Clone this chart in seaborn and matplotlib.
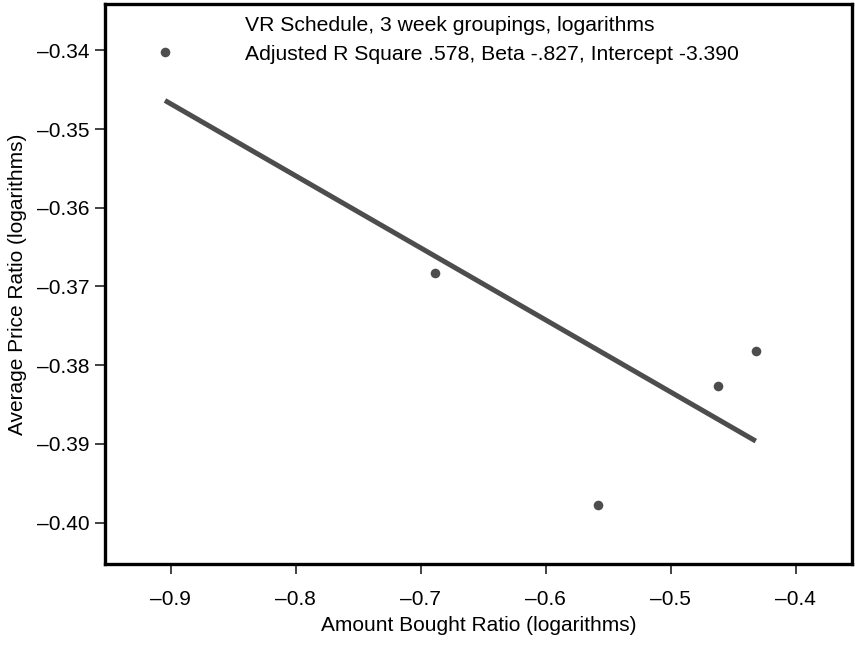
import seaborn as sns
import matplotlib.pyplot as plt
import pandas as pd

# values
amount_ratio = [-0.9046, -0.6886, -0.5582, -0.4624, -0.4320]
price_ratio = [-0.3402, -0.3683, -0.3978, -0.3826, -0.3782]
xticks = [-0.9, -0.8, -0.7, -0.6, -0.5, -0.4]
yticks = [-0.34, -0.35, -0.36, -0.37, -0.38, -0.39, -0.40]
note1 = "VR Schedule, 3 week groupings, logarithms"
note2 = "Adjusted R Square .578, Beta -.827, Intercept -3.390"

df = pd.DataFrame({"x": amount_ratio, "y": price_ratio})

sns.set_style("ticks")
plt.rcParams['font.family'] = ['Liberation Sans', 'DejaVu Sans']
plt.rcParams['text.color'] = 'black'
plt.rcParams['axes.labelcolor'] = 'black'
plt.rcParams['xtick.labelcolor'] = 'black'
plt.rcParams['ytick.labelcolor'] = 'black'

fig = plt.figure(figsize=(8.57, 6.46), dpi=100)
ax = fig.add_axes([0.1225, 0.127, 0.8717, 0.8668])

grey = "#4d4d4d"
sns.regplot(data=df, x="x", y="y", ci=None, ax=ax,
            scatter_kws={"s": 48, "color": grey, "alpha": 1, "linewidths": 0},
            line_kws={"color": grey, "lw": 3.6, "solid_capstyle": "butt"})

ax.set_xlim(-0.9526, -0.355)
ax.set_ylim(-0.40526, -0.3341)
ax.set_xticks(xticks)
ax.set_yticks(yticks)
ax.set_xticklabels(["\u2013%.1f" % abs(v) for v in xticks])
ax.set_yticklabels(["\u2013%.2f" % abs(v) for v in yticks])

for s in ax.spines.values():
    s.set_visible(True)
    s.set_color("black")
    s.set_linewidth(2.4)

ax.tick_params(axis="both", which="major", direction="out", length=7, width=1.3,
               color="#333333", labelsize=15)
ax.tick_params(axis="x", pad=12)
ax.tick_params(axis="y", pad=4)

ax.set_xlabel("Amount Bought Ratio (logarithms)", fontsize=15, labelpad=5)
ax.set_ylabel("Average Price Ratio (logarithms)", fontsize=15, labelpad=7)

ax.text(0.187, 0.962, note1, transform=ax.transAxes, fontsize=15.2, va="center")
ax.text(0.187, 0.909, note2, transform=ax.transAxes, fontsize=15.2, va="center")

fig.savefig("out.png", dpi=100)
